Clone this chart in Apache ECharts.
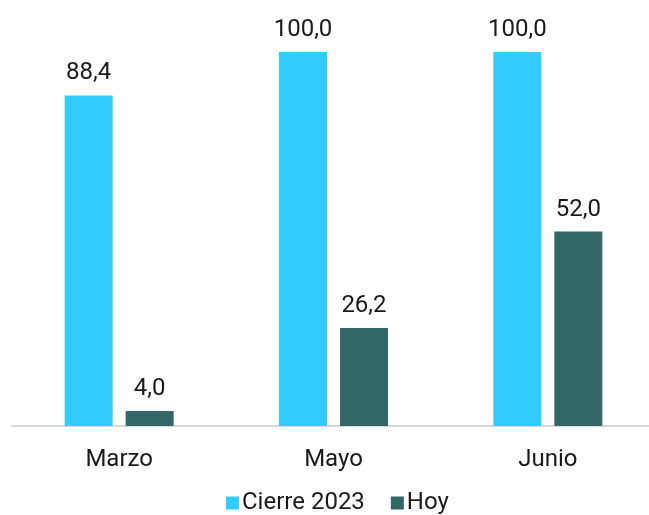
<!DOCTYPE html>
<html><head><meta charset="utf-8">
<script src="https://cdn.jsdelivr.net/npm/echarts@6/dist/echarts.min.js"></script>
<style>html,body{margin:0;padding:0;background:#fff}#c{width:649px;height:515px}</style>
</head><body><div id="c"></div>
<script>
const categories = ['Marzo', 'Mayo', 'Junio'];
const cierre2023 = [88.4, 100.0, 100.0];
const hoy = [4.0, 26.2, 52.0];
const seriesNames = ['Cierre 2023', 'Hoy'];

const fmt = p => p.value.toFixed(1).replace('.', ',');
const chart = echarts.init(document.getElementById('c'), null, {renderer: 'canvas'});
const labelStyle = {show: true, position: 'top', distance: 10, formatter: fmt,
  fontFamily: 'Roboto', fontSize: 24, color: '#1a1a1a'};
chart.setOption({
  animation: false,
  textStyle: {fontFamily: 'Roboto'},
  grid: {left: 12, width: 643, top: 52, height: 374, containLabel: false, outerBoundsMode: 'none'},
  legend: {
    top: 486, left: 221, itemWidth: 13, itemHeight: 13, itemGap: 26,
    icon: 'rect',
    textStyle: {fontFamily: 'Roboto', fontSize: 24, color: '#1a1a1a', padding: [0,0,0,-2]},
    data: seriesNames
  },
  xAxis: {
    type: 'category', data: categories,
    axisLine: {lineStyle: {color: '#d9d9d9', width: 2}},
    axisTick: {show: false},
    axisLabel: {fontFamily: 'Roboto', fontSize: 24, color: '#1a1a1a', margin: 22}
  },
  yAxis: {type: 'value', min: 0, max: 100, show: false, splitLine: {show: false}},
  series: [
    {name: seriesNames[0], type: 'bar', data: cierre2023, barWidth: 48, barGap: '27%',
     itemStyle: {color: '#33CCFF'}, label: labelStyle},
    {name: seriesNames[1], type: 'bar', data: hoy, barWidth: 48,
     itemStyle: {color: '#336666'}, label: labelStyle}
  ]
});
</script></body></html>
